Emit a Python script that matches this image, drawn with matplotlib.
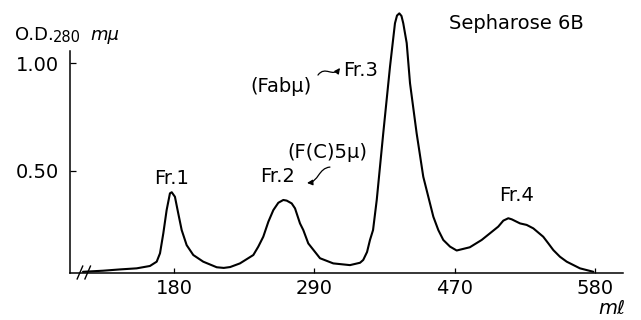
import numpy as np
import matplotlib.pyplot as plt
from matplotlib.path import Path
from matplotlib.patches import FancyArrowPatch

# elution volume on the tick scale (ticks evenly spaced, labelled 180/290/470/580)
vol = [108.6, 124.3, 137.6, 150.7, 161.1, 166.4, 169.0, 171.6, 174.2, 176.8,
       178.2, 180.7, 183.3, 186.0, 189.9, 195.1, 202.9, 213.5, 219.0, 224.0,
       231.7, 242.2, 246.1, 250.0, 254.0, 257.9, 261.8, 265.7, 268.4, 272.3,
       274.9, 278.8, 281.4, 285.3, 294.5, 304.9, 318.0, 325.9, 328.4, 331.4,
       333.7, 336.1, 339.0, 344.1, 349.4, 351.5, 353.3, 354.9, 356.7, 358.4,
       359.8, 362.5, 365.1, 370.3, 375.5, 383.4, 387.3, 391.2, 396.5, 401.7,
       412.0, 421.3, 427.8, 434.3, 438.3, 442.2, 444.9, 451.4, 456.6, 461.8,
       469.6, 473.6, 477.5, 482.7, 488.0, 498.4, 508.9]
od = [0.029, 0.034, 0.040, 0.045, 0.056, 0.076, 0.115, 0.208, 0.316, 0.394,
      0.399, 0.378, 0.301, 0.223, 0.153, 0.107, 0.076, 0.050, 0.047, 0.051,
      0.068, 0.107, 0.146, 0.192, 0.262, 0.316, 0.350, 0.363, 0.360, 0.347,
      0.324, 0.254, 0.223, 0.161, 0.092, 0.068, 0.060, 0.071, 0.084, 0.121,
      0.177, 0.223, 0.363, 0.673, 0.983, 1.092, 1.185, 1.221, 1.231, 1.219,
      1.185, 1.093, 0.906, 0.673, 0.471, 0.285, 0.223, 0.177, 0.146, 0.128,
      0.143, 0.177, 0.208, 0.239, 0.267, 0.278, 0.273, 0.254, 0.247, 0.231,
      0.192, 0.161, 0.130, 0.099, 0.076, 0.045, 0.029]

xticks = [180, 290, 400, 510]
xlabels = ['180', '290', '470', '580']
yticks = [0.50, 1.00]
ylabels = ['0.50', '1.00']

fig = plt.figure(figsize=(6.41, 3.2), dpi=100)
ax = fig.add_axes([0.1092, 0.1484, 0.8628, 0.836])

ax.plot(vol, od, color='black', lw=1.5, solid_joinstyle='round',
        solid_capstyle='round')

ax.set_xlim(98.4, 532.2)
ax.set_ylim(0.0256, 1.27)
for s in ['top', 'right']:
    ax.spines[s].set_visible(False)
ax.spines['left'].set_linewidth(1.1)
ax.spines['bottom'].set_linewidth(1.1)
ax.spines['left'].set_bounds(0.0256, 1.056)

ax.set_xticks(xticks)
ax.set_xticklabels(xlabels)
ax.set_yticks(yticks)
ax.set_yticklabels(ylabels)
ax.tick_params(axis='x', direction='in', length=3.5, width=0.9, pad=5, labelsize=14)
ax.tick_params(axis='y', direction='in', length=4.5, width=0.9, pad=8, labelsize=14)

# axis break marks
for xb in [0.018, 0.032]:
    ax.plot([xb - 0.005, xb + 0.005], [-0.024, 0.024], color='black', lw=1.0,
            transform=ax.transAxes, clip_on=False)

txt = dict(fontsize=14, ha='center', va='center')
ax.text(178.4, 0.465, 'Fr.1', **txt)
ax.text(261.5, 0.470, 'Fr.2', **txt)
ax.text(326.6, 0.967, 'Fr.3', **txt)
ax.text(449.0, 0.386, 'Fr.4', **txt)
ax.text(263.9, 0.893, '(Fabμ)', **txt)
ax.text(300.0, 0.586, '(F(C)5μ)', **txt)
ax.text(448.3, 1.186, 'Sepharose 6B', **txt)


def wavy_arrow(p0, p1, bend):
    # S-shaped arrow from p0 to p1
    dx, dy = p1[0] - p0[0], p1[1] - p0[1]
    c1 = (p0[0] + dx / 3 - bend[0], p0[1] + dy / 3 + bend[1])
    c2 = (p0[0] + 2 * dx / 3 + bend[0], p0[1] + 2 * dy / 3 - bend[1])
    path = Path([p0, c1, c2, p1],
                [Path.MOVETO, Path.CURVE4, Path.CURVE4, Path.CURVE4])
    ax.add_patch(FancyArrowPatch(path=path, arrowstyle='-|>', color='black',
                                 lw=0.9, mutation_scale=8))


wavy_arrow((302.3, 0.516), (284.3, 0.442), (3.0, 0.02))
wavy_arrow((292.9, 0.944), (310.2, 0.977), (0.0, 0.035))

fig.text(15 / 641, 1 - 35 / 320, 'O.D.', fontsize=13, ha='left', va='center')
fig.text(53 / 641, 1 - 37 / 320, '280', fontsize=10.5, ha='left', va='center')
fig.text(90 / 641, 1 - 35 / 320, 'mμ', fontsize=13, style='italic',
         ha='left', va='center')
fig.text(612 / 641, 1 - 309 / 320, 'mℓ', fontsize=14, style='italic',
         ha='center', va='center')

fig.savefig('out.png', dpi=100)
